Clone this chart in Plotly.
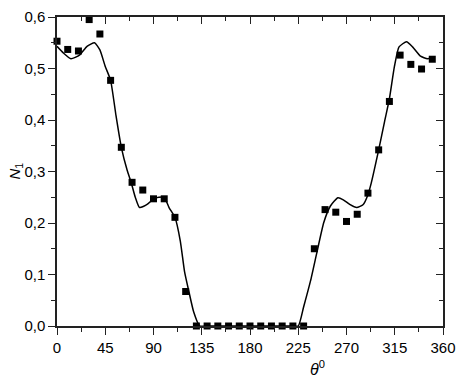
import plotly.graph_objects as go

# measured points
pt_theta = [0, 10, 20, 30, 40, 50, 60, 70, 80, 90, 100, 110, 120, 130, 140, 150, 160, 170,
            180, 190, 200, 210, 220, 230, 240, 250, 260, 270, 280, 290, 300, 310, 320, 330, 340, 350]
pt_n1 = [0.553, 0.537, 0.534, 0.595, 0.567, 0.477, 0.347, 0.279, 0.264, 0.247, 0.247, 0.211, 0.067,
         0.0, 0.0, 0.0, 0.0, 0.0, 0.0, 0.0, 0.0, 0.0, 0.0, 0.0, 0.150, 0.226, 0.221, 0.203, 0.217,
         0.258, 0.342, 0.436, 0.526, 0.508, 0.499, 0.518]

# calculated curve
ln_theta = [0, 6, 13, 21, 28, 35, 40, 45, 50, 55, 60, 65.5, 69, 73, 77, 84, 90, 95, 100, 104.5, 110, 115,
            119, 123, 127.5, 133, 140, 160, 180, 200, 218, 225, 230, 236.5, 242.6, 248.8, 255, 262, 267,
            273, 279.5, 285.6, 290, 293, 300, 305.5, 310, 314.7, 319, 326, 331.6, 339, 345.5, 350]
ln_n1 = [0.543, 0.530, 0.519, 0.526, 0.543, 0.550, 0.536, 0.504, 0.477, 0.409, 0.347, 0.302, 0.280,
         0.250, 0.230, 0.236, 0.247, 0.250, 0.250, 0.230, 0.211, 0.165, 0.105, 0.067, 0.027, 0.0,
         0.0, 0.0, 0.0, 0.0, 0.0, 0.0, 0.037, 0.088, 0.145, 0.201, 0.233, 0.249, 0.245, 0.236, 0.230,
         0.236, 0.255, 0.277, 0.342, 0.397, 0.441, 0.504, 0.542, 0.552, 0.542, 0.524, 0.519, 0.521]

x_ticks = [0, 45, 90, 135, 180, 225, 270, 315, 360]
y_ticks = [0.0, 0.1, 0.2, 0.3, 0.4, 0.5, 0.6]

font = dict(family="Liberation Sans, Arial, sans-serif", size=15, color="black")
XR = [0, 360.001]
YR = [0, 0.600002]

fig = go.Figure()
fig.add_trace(go.Scatter(x=ln_theta, y=ln_n1, mode="lines",
                         line=dict(color="black", width=1.5, shape="spline", smoothing=0.5),
                         showlegend=False, hoverinfo="skip"))
fig.add_trace(go.Scatter(x=pt_theta, y=pt_n1, mode="markers",
                         marker=dict(symbol="square", size=7, color="black"),
                         showlegend=False, cliponaxis=False))
fig.add_trace(go.Scatter(x=[None], y=[None], xaxis="x2", yaxis="y2", showlegend=False))

common = dict(showline=True, linecolor="#222", linewidth=1.5, showgrid=False, zeroline=False,
              ticklen=7, tickwidth=1.3, tickcolor="#222")

fig.update_layout(
    width=464, height=378,
    margin=dict(l=56.5, r=16, t=8, b=51.5),
    paper_bgcolor="white", plot_bgcolor="white",
    separators=",.",
    font=font,
    xaxis=dict(range=XR, tickvals=x_ticks, ticks="outside", tickfont=font,
               ticklabeloverflow="allow",
               minor=dict(ticks="outside", ticklen=4, dtick=22.5, tick0=0, tickcolor="#222", tickwidth=1.3),
               **common),
    yaxis=dict(range=YR, tickvals=y_ticks, tickformat=".1f", ticks="outside", tickfont=font,
               ticklabeloverflow="allow",
               minor=dict(ticks="outside", ticklen=4, dtick=0.05, tick0=0, tickcolor="#222", tickwidth=1.3),
               **common),
    xaxis2=dict(range=XR, overlaying="x", side="top", tickvals=x_ticks, ticks="inside",
                showticklabels=False,
                minor=dict(ticks="inside", ticklen=4, dtick=22.5, tick0=0, tickcolor="#222", tickwidth=1.3),
                **common),
    yaxis2=dict(range=YR, overlaying="y", side="right", tickvals=y_ticks, ticks="inside",
                showticklabels=False,
                minor=dict(ticks="inside", ticklen=4, dtick=0.05, tick0=0, tickcolor="#222", tickwidth=1.3),
                **common),
    annotations=[
        dict(text="<i>N</i><sub>1</sub>", xref="paper", yref="paper", x=0, y=0.5,
             xshift=-42, xanchor="center", yanchor="middle", textangle=-90, showarrow=False,
             font=dict(family="Liberation Sans, Arial, sans-serif", size=15, color="black")),
        dict(text="<i>θ</i><sup>0</sup>", xref="paper", yref="paper", x=0.675, y=0,
             yshift=-30, xanchor="center", yanchor="top", showarrow=False,
             font=dict(family="Liberation Sans, Arial, sans-serif", size=16, color="black")),
    ],
)

fig.write_html("out.html")
